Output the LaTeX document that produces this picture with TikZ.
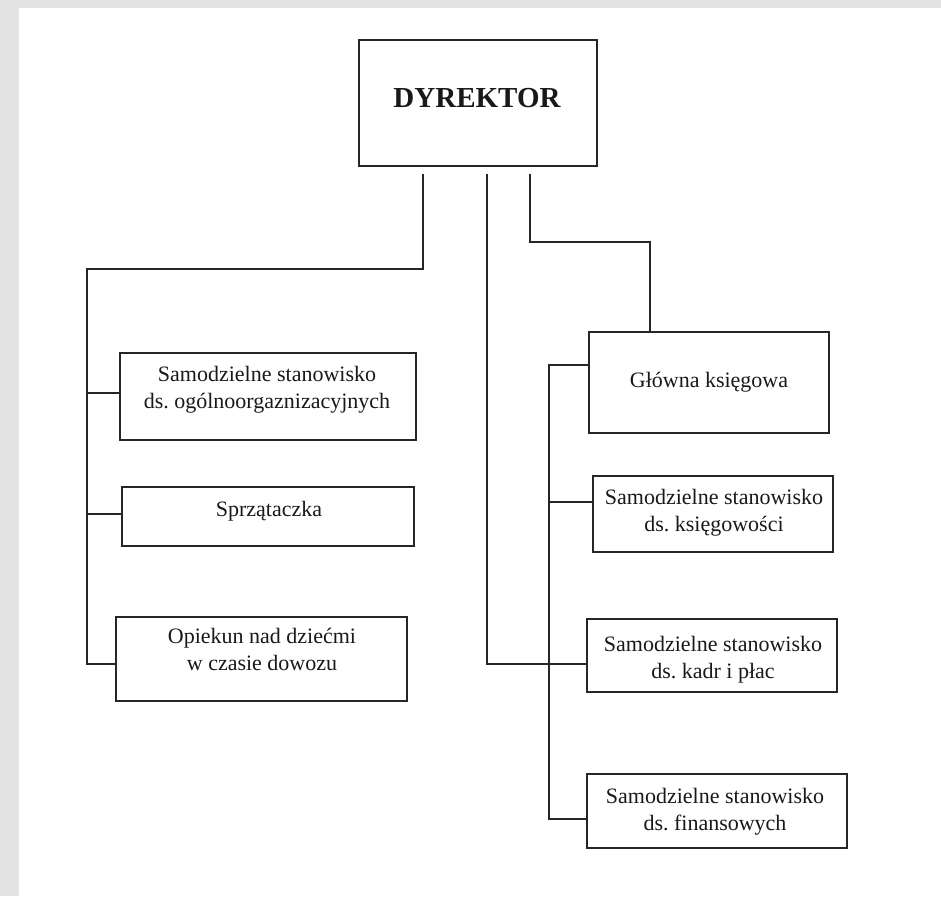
\documentclass[tikz,border=0pt]{standalone}
\usepackage{fontspec}
\setmainfont{Liberation Serif}
\frenchspacing
\definecolor{pagegray}{HTML}{E3E3E3}
\definecolor{ink}{HTML}{262626}
\begin{document}
\begin{tikzpicture}[x=1pt,y=-1pt,
  box/.style={draw=ink,line width=1.3pt,rectangle,inner sep=0pt,outer sep=0pt},
  txt/.style={font=\fontsize{22}{27}\selectfont,align=center,anchor=base,inner sep=0pt,text=black!90},
  conn/.style={draw=ink,line width=1.3pt}]
\useasboundingbox (0,0) rectangle (941,896);
\fill[pagegray] (0,0) rectangle (941,896);
\fill[white] (19,8) rectangle (941,896);

% boxes
\node[box,minimum width=238pt,minimum height=126pt] (dir) at (478,103) {};
\node[box,minimum width=296pt,minimum height=87pt] (b1) at (268,396.5) {};
\node[box,minimum width=292pt,minimum height=59pt] (b2) at (268,516.5) {};
\node[box,minimum width=291pt,minimum height=84pt] (b3) at (261.5,659) {};
\node[box,minimum width=240pt,minimum height=101pt] (gl) at (709,382.5) {};
\node[box,minimum width=240pt,minimum height=76pt] (ks) at (713,514) {};
\node[box,minimum width=250pt,minimum height=73pt] (kd) at (712,655.5) {};
\node[box,minimum width=260pt,minimum height=74pt] (fn) at (717,811) {};

% texts (anchor = baseline of last line)
\node[txt,font=\fontsize{29}{32}\selectfont\bfseries] (tdir) at (477,108) {DYREKTOR};
\node[txt] (tb1) at (267,408) {Samodzielne stanowisko\\ds. ogólnoorgaznizacyjnych};
\node[txt] (tb2) at (269,516) {Sprzątaczka};
\node[txt] (tb3) at (262,670) {Opiekun nad dziećmi\\w czasie dowozu};
\node[txt] (tgl) at (709,387) {Główna księgowa};
\node[txt] (tks) at (714,531) {Samodzielne stanowisko\\ds. księgowości};
\node[txt] (tkd) at (713,678) {Samodzielne stanowisko\\ds. kadr i płac};
\node[txt] (tfn) at (715,830) {Samodzielne stanowisko\\ds. finansowych};

% connector points
\coordinate (dl) at (423,174);
\coordinate (dm) at (487,174);
\coordinate (dr) at (530,174);
\coordinate (lv) at (87,269);
\coordinate (rc) at (650,242);
\coordinate (gv) at (549,365);

% left branch
\draw[conn] (dl) |- (lv) |- ([yshift=-5pt]b3.west);
\draw[conn] ([yshift=3.5pt]b1.west) -- ([yshift=3.5pt]b1.west -| lv);
\draw[conn] ([yshift=2.5pt]b2.west) -- ([yshift=2.5pt]b2.west -| lv);
% middle branch
\draw[conn] (dm) |- ([yshift=-8.5pt]kd.west);
% right branch
\draw[conn] (dr) |- (rc) -- (rc |- gl.north);
\draw[conn] (gl.west |- gv) -- (gv) |- ([yshift=-8pt]fn.west);
\draw[conn] ([yshift=12pt]ks.west) -- ([yshift=12pt]ks.west -| gv);
\end{tikzpicture}
\end{document}
